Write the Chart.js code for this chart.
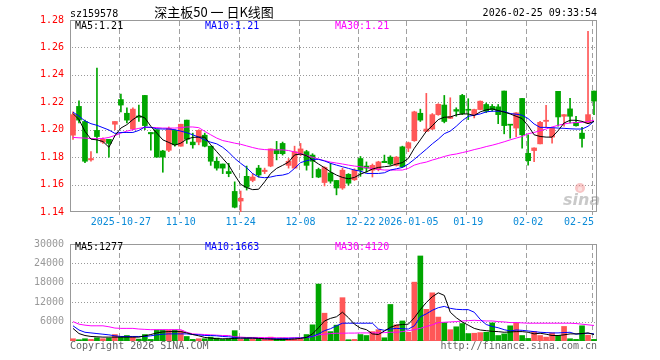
<!DOCTYPE html>
<html>
<head>
<meta charset="utf-8">
<script src="https://cdn.jsdelivr.net/npm/chart.js@4.4.1/dist/chart.umd.min.js"></script>
<style>
body{margin:0;background:#fff;}
#caja{position:relative;width:660px;height:360px;}
#fondo{position:absolute;left:0;top:0;}
#k{position:absolute;left:0;top:0;}
#v{position:absolute;left:0;top:232px;}
</style>
</head>
<body>
<div id="caja">
<canvas id="fondo" width="660" height="360"></canvas>
<canvas id="k" width="660" height="236"></canvas>
<canvas id="v" width="660" height="128"></canvas>
</div>
<script>
// dias de mercado
var fechas = [
 '2025-10-15','2025-10-16','2025-10-17','2025-10-20','2025-10-21','2025-10-22','2025-10-23','2025-10-24','2025-10-27','2025-10-28',
 '2025-10-29','2025-10-30','2025-10-31','2025-11-03','2025-11-04','2025-11-05','2025-11-06','2025-11-07','2025-11-10','2025-11-11',
 '2025-11-12','2025-11-13','2025-11-14','2025-11-17','2025-11-18','2025-11-19','2025-11-20','2025-11-21','2025-11-24','2025-11-25',
 '2025-11-26','2025-11-27','2025-11-28','2025-12-01','2025-12-02','2025-12-03','2025-12-04','2025-12-05','2025-12-08','2025-12-09',
 '2025-12-10','2025-12-11','2025-12-12','2025-12-15','2025-12-16','2025-12-17','2025-12-18','2025-12-19','2025-12-22','2025-12-23',
 '2025-12-24','2025-12-25','2025-12-26','2025-12-29','2025-12-30','2025-12-31','2026-01-05','2026-01-06','2026-01-07','2026-01-08',
 '2026-01-09','2026-01-12','2026-01-13','2026-01-14','2026-01-15','2026-01-16','2026-01-19','2026-01-20','2026-01-21','2026-01-22',
 '2026-01-23','2026-01-26','2026-01-27','2026-01-28','2026-01-29','2026-01-30','2026-02-02','2026-02-03','2026-02-04','2026-02-05',
 '2026-02-06','2026-02-09','2026-02-10','2026-02-11','2026-02-12','2026-02-13','2026-02-24','2026-02-25'
];
var apertura = [
 1.196,1.217,1.206,1.178,1.1995,1.191,1.193,1.204,1.222,1.212,
 1.2005,1.210,1.225,1.198,1.200,1.1845,1.185,1.1995,1.188,1.207,
 1.191,1.191,1.196,1.188,1.177,1.175,1.1695,1.155,1.148,1.166,
 1.163,1.172,1.1695,1.1735,1.1855,1.190,1.174,1.172,1.182,1.184,
 1.1815,1.171,1.1615,1.1685,1.163,1.1575,1.1675,1.1635,1.179,1.1735,
 1.1705,1.171,1.177,1.180,1.174,1.1875,1.1865,1.192,1.212,1.1988,
 1.2005,1.211,1.218,1.2083,1.2147,1.225,1.2147,1.211,1.2147,1.2184,
 1.217,1.2167,1.2282,1.2035,1.2012,1.2228,1.1828,1.1848,1.1897,1.2061,
 1.1946,1.228,1.2098,1.2152,1.2054,1.1975,1.2049,1.2282
];
var maximo = [
 1.213,1.221,1.207,1.184,1.245,1.194,1.193,1.206,1.226,1.216,
 1.216,1.218,1.225,1.198,1.200,1.185,1.202,1.200,1.204,1.207,
 1.1975,1.200,1.1975,1.188,1.180,1.175,1.1755,1.162,1.1553,1.1735,
 1.168,1.174,1.172,1.186,1.1915,1.191,1.179,1.188,1.190,1.185,
 1.1825,1.172,1.173,1.1755,1.163,1.172,1.168,1.1715,1.1805,1.1765,
 1.175,1.177,1.1815,1.181,1.1805,1.188,1.191,1.2135,1.215,1.2265,
 1.2118,1.219,1.225,1.2233,1.216,1.2258,1.2226,1.215,1.221,1.2195,
 1.2184,1.2184,1.2282,1.2035,1.2125,1.2228,1.1963,1.1868,1.2061,1.2177,
 1.2014,1.228,1.211,1.2228,1.2098,1.2017,1.2717,1.2282
];
var minimo = [
 1.193,1.205,1.176,1.177,1.183,1.190,1.180,1.200,1.213,1.205,
 1.200,1.206,1.200,1.185,1.180,1.169,1.184,1.188,1.188,1.190,
 1.1865,1.189,1.1875,1.174,1.1705,1.168,1.1657,1.143,1.140,1.156,
 1.162,1.1655,1.168,1.173,1.178,1.1815,1.172,1.172,1.181,1.1705,
 1.165,1.165,1.159,1.161,1.1525,1.1565,1.1595,1.163,1.166,1.169,
 1.1655,1.170,1.176,1.174,1.1735,1.1725,1.184,1.1915,1.206,1.1988,
 1.200,1.2105,1.205,1.2081,1.2098,1.211,1.2074,1.2086,1.2145,1.2125,
 1.2135,1.2044,1.197,1.1938,1.195,1.1865,1.1742,1.1767,1.1897,1.202,
 1.1902,1.2025,1.2025,1.2049,1.2025,1.1872,1.2044,1.211
];
var cierre = [
 1.211,1.207,1.177,1.179,1.195,1.193,1.190,1.206,1.218,1.207,
 1.215,1.209,1.203,1.197,1.180,1.180,1.201,1.189,1.204,1.193,
 1.189,1.1995,1.188,1.177,1.172,1.172,1.168,1.1435,1.150,1.158,
 1.1655,1.167,1.1705,1.186,1.1825,1.1825,1.177,1.184,1.186,1.174,
 1.177,1.1655,1.1725,1.1625,1.1575,1.1705,1.161,1.1705,1.1705,1.172,
 1.174,1.1765,1.176,1.175,1.180,1.173,1.1905,1.213,1.207,1.2005,
 1.211,1.2185,1.206,1.2096,1.2135,1.2118,1.2142,1.2147,1.2208,1.2135,
 1.2147,1.211,1.203,1.2033,1.2123,1.1963,1.1774,1.1867,1.2054,1.2069,
 1.2012,1.2093,1.211,1.2098,1.2029,1.1936,1.211,1.2209
];
var ma5 = [
 1.2118,1.2074,1.1988,1.1931,1.1926,1.1914,1.1872,1.1956,1.2012,1.2037,
 1.2074,1.2103,1.2086,1.2025,1.1975,1.1926,1.1907,1.1887,1.1902,1.1931,
 1.1944,1.1946,1.1946,1.189,1.184,1.1791,1.1742,1.1669,1.1602,1.1578,
 1.1563,1.1566,1.162,1.1681,1.1718,1.174,1.1764,1.1816,1.1823,1.1811,
 1.1779,1.175,1.1723,1.1693,1.1669,1.1652,1.1642,1.1652,1.1676,1.1693,
 1.1713,1.1725,1.173,1.1735,1.175,1.176,1.1791,1.1865,1.1926,1.1988,
 1.2029,1.2074,1.2091,1.2093,1.2108,1.2115,1.2115,1.2103,1.213,1.2145,
 1.2152,1.214,1.2128,1.2115,1.2098,1.2081,1.2029,1.1963,1.1951,1.1946,
 1.1946,1.1993,1.2049,1.2069,1.2069,1.2061,1.2044,1.2061
];
var ma10 = [
 1.2128,1.2098,1.2064,1.2044,1.2032,1.2015,1.1998,1.1973,1.198,1.198,
 1.198,1.1995,1.202,1.2017,1.2007,1.2005,1.2005,1.20,1.199,1.1978,
 1.1963,1.1946,1.1926,1.1909,1.1897,1.1872,1.1836,1.1791,1.1755,1.1723,
 1.168,1.1655,1.165,1.1655,1.1665,1.1669,1.1681,1.1718,1.176,1.1774,
 1.1784,1.1784,1.1772,1.1755,1.1742,1.173,1.1718,1.1706,1.1698,1.1681,
 1.1681,1.1681,1.1686,1.1706,1.1715,1.1725,1.175,1.1784,1.1821,1.1858,
 1.1897,1.1931,1.1971,1.199,1.2025,1.2066,1.2098,1.2106,1.2115,1.213,
 1.2135,1.2135,1.2133,1.2118,1.2113,1.2106,1.2081,1.2042,1.2017,1.2017,
 1.2015,1.2012,1.201,1.2007,1.2005,1.2005,1.2025,1.2061
];
var ma30 = [
 1.1944,1.1941,1.1939,1.1936,1.1934,1.1936,1.1944,1.1958,1.1975,1.199,
 1.20,1.201,1.2017,1.2017,1.2015,1.2012,1.2012,1.2012,1.2015,1.202,
 1.202,1.2015,1.1988,1.1963,1.1939,1.1921,1.1912,1.1902,1.1894,1.1882,
 1.187,1.186,1.1855,1.1853,1.1853,1.1853,1.1848,1.1838,1.1826,1.1811,
 1.1799,1.1786,1.1774,1.1764,1.1757,1.175,1.1742,1.1735,1.173,1.1723,
 1.1718,1.1711,1.1706,1.1706,1.1706,1.1706,1.1718,1.1742,1.1755,1.1764,
 1.1779,1.1791,1.1805,1.1816,1.1823,1.1833,1.1843,1.1855,1.1865,1.1877,
 1.1887,1.1899,1.1912,1.1926,1.1939,1.1951,1.1971,1.198,1.1993,1.2005,
 1.202,1.2032,1.2042,1.2049,1.2052,1.2054,1.2059,1.2069
];
var volumen = [
 700,400,700,500,1000,700,900,2000,1200,1700,
 1200,600,2000,500,3400,3400,3400,3400,3200,1400,
 500,700,700,1200,900,500,700,3200,500,900,
 700,700,500,1200,700,900,500,700,700,2000,
 5000,17600,8600,2900,4900,13400,400,500,2000,1700,
 2900,3500,1000,11300,5000,6200,2700,18200,26300,9800,
 14900,7400,5700,3500,4400,5400,2300,2400,2600,2700,
 5600,1700,2200,4700,5700,1700,800,2900,1700,1200,
 2500,1700,4500,700,500,4700,1800,500
];
var volMa5 = [
 3900,2300,1700,1400,1300,1200,1200,1200,1200,1200,
 1200,1200,1600,2000,2500,2800,2900,2900,2900,2500,
 2000,1600,1100,900,700,700,700,800,900,900,
 900,800,700,600,500,500,500,600,800,1100,
 2200,4100,6200,7000,7500,8900,7200,5200,4000,3500,
 2200,2000,3100,4200,4900,5100,5200,7200,9700,11900,
 13700,14900,14100,8900,7200,5900,4900,3900,3400,3200,
 3000,2900,2700,2800,2900,2900,2700,2200,2400,2100,
 1700,1700,1900,2200,2200,2300,2500,2000
];
var volMa10 = [
 4700,3400,2700,2500,2300,2100,1900,1600,1400,1400,
 1400,1400,1400,1600,1900,2100,2200,2200,2200,2200,
 2000,1900,1700,1700,1600,1400,1300,1100,900,900,
 900,800,700,700,700,700,800,900,900,1100,
 1400,2200,3200,3800,4700,5500,5500,5500,5500,5500,
 5500,3700,3300,3700,3900,3800,3700,4700,7500,8400,
 9500,10300,10700,10100,9800,9700,9700,8900,6700,5100,
 4500,4100,3500,3100,3400,3300,3100,2900,2700,2600,
 2500,2500,2600,2700,2100,2300,2400,2200
];
var volMa30 = [
 6000,5200,4900,4700,4700,4700,4400,4000,3900,3900,
 3900,3700,3600,3500,3500,3500,3500,3500,3500,2700,
 2200,2100,2000,1900,1800,1700,1700,1300,1200,1100,
 1100,1100,1050,1050,1000,1000,1000,1000,1000,1100,
 1400,1900,2100,2300,2400,2400,2450,2450,2500,2500,
 2500,2500,2600,2700,2700,2900,3200,3500,3900,4500,
 5000,5700,5800,5900,6000,6200,6300,6400,6300,6200,
 6200,6000,5900,5700,5700,5600,5500,5500,5500,5500,
 5500,5500,5500,5500,5400,5200,5000,4800
];
var volLeyenda = [1277, 1663, 4120];
var fechasEje = ['2025-10-27','2025-11-10','2025-11-24','2025-12-08','2025-12-22','2026-01-05','2026-01-19','2026-02-02','2026-02-25'];
var textosEje = ['2025-10-27','11-10','11-24','12-08','12-22','2026-01-05','01-19','02-02','02-25'];

var ROJO = '#ff5757';
var VERDE = '#00a600';
var MONO = 'DejaVu Sans Mono';

var posEje = fechasEje.map(function(f){ return fechas.indexOf(f); });
var colores = cierre.map(function(c, i){ return c >= apertura[i] ? ROJO : VERDE; });

function lineaMA(datos, color){
    return {type: 'line', data: datos, borderColor: color, borderWidth: 1,
            pointRadius: 0, tension: 0, fill: false, order: 0};
}

function ejeX(conTexto){
    return {
        offset: true,
        grid: {display: false, drawTicks: true, tickLength: 3},
        border: {display: false},
        ticks: {
            display: conTexto,
            autoSkip: false, maxRotation: 0, padding: 1, color: '#0b8bd8',
            font: {family: MONO, size: 10},
            callback: function(v, i){
                var k = posEje.indexOf(i);
                if (k < 0) return '';
                // la ultima fecha va pegada a la izquierda de su linea
                return k == textosEje.length - 1 ? textosEje[k] + '     ' : textosEje[k];
            }
        },
        afterFit: function(s){ s.height = conTexto ? 24 : 19; }
    };
}

function leyenda(c, a, y, textos){
    var colorTxt = ['#000', '#0000ff', '#ff00ff'];
    c.font = '10px "' + MONO + '"';
    c.textAlign = 'left';
    c.textBaseline = 'middle';
    for (var i = 0; i < 3; i++) {
        c.fillStyle = colorTxt[i];
        c.fillText(textos[i], a.left + 5 + 130 * i, y);
    }
}

var decoPrecio = {
    id: 'decoPrecio',
    afterDraw: function(chart){
        var c = chart.ctx, a = chart.chartArea;
        c.save();
        c.textBaseline = 'alphabetic';
        c.font = '10px "' + MONO + '"';
        c.fillStyle = '#000';
        c.textAlign = 'left';
        c.fillText('sz159578', a.left, 17);
        c.textAlign = 'right';
        c.fillText('2026-02-25 09:33:54', a.right, 16);
        c.font = '13px "Noto Sans CJK SC"';
        c.textAlign = 'center';
        c.fillText('深主板50 一 日K线图', 214, 17);
        leyenda(c, a, 26, ['MA5:' + ma5[ma5.length - 1].toFixed(2),
                           'MA10:' + ma10[ma10.length - 1].toFixed(2),
                           'MA30:' + ma30[ma30.length - 1].toFixed(2)]);
        // marca de agua sina
        c.globalAlpha = 0.45;
        c.fillStyle = '#f08080';
        c.beginPath(); c.arc(580, 188, 5, 0, Math.PI * 2); c.fill();
        c.fillStyle = '#fff';
        c.beginPath(); c.arc(580, 189, 2.2, 0, Math.PI * 2); c.fill();
        c.fillStyle = '#888';
        c.font = 'italic bold 16px "DejaVu Sans"';
        c.textAlign = 'left';
        c.textBaseline = 'alphabetic';
        c.fillText('sina', 563, 205);
        c.restore();
    }
};

var decoVol = {
    id: 'decoVol',
    afterDraw: function(chart){
        var c = chart.ctx, a = chart.chartArea;
        c.save();
        leyenda(c, a, 15, ['MA5:' + volLeyenda[0], 'MA10:' + volLeyenda[1], 'MA30:' + volLeyenda[2]]);
        c.fillStyle = '#666';
        c.fillText('Copyright 2026 SINA.COM', a.left, 114);
        c.textAlign = 'right';
        c.fillText('http://finance.sina.com.cn', a.right, 114);
        c.restore();
    }
};

var velas = new Chart(document.getElementById('k'), {
    type: 'bar',
    data: {
        labels: fechas,
        datasets: [
            lineaMA(ma5, '#000'),
            lineaMA(ma10, '#0000ff'),
            lineaMA(ma30, '#ff00ff'),
            {data: fechas.map(function(f, i){ return [minimo[i], maximo[i]]; }),
             backgroundColor: colores, barThickness: 1, grouped: false, order: 2},
            {data: fechas.map(function(f, i){ return [apertura[i], cierre[i]]; }),
             backgroundColor: colores, barThickness: 5, minBarLength: 1, grouped: false, order: 1}
        ]
    },
    options: {
        responsive: false,
        animation: false,
        events: [],
        layout: {padding: {top: 20, right: 63, left: 0, bottom: 0}},
        plugins: {legend: {display: false}, tooltip: {enabled: false}},
        scales: {
            x: ejeX(true),
            y: {
                min: 1.14, max: 1.28,
                ticks: {stepSize: 0.02, color: '#ff0000', padding: 6, font: {family: MONO, size: 10},
                        callback: function(v){ return v.toFixed(2); }},
                grid: {display: false, drawTicks: false},
                border: {display: false},
                afterFit: function(s){ s.width = 70; }
            }
        }
    },
    plugins: [decoPrecio]
});

var barrasVol = new Chart(document.getElementById('v'), {
    type: 'bar',
    data: {
        labels: fechas,
        datasets: [
            lineaMA(volMa5, '#000'),
            lineaMA(volMa10, '#0000ff'),
            lineaMA(volMa30, '#ff00ff'),
            {data: volumen, backgroundColor: colores, barThickness: 5, grouped: false, order: 1}
        ]
    },
    options: {
        responsive: false,
        animation: false,
        events: [],
        layout: {padding: {top: 8, right: 63, left: 0, bottom: 0}},
        plugins: {legend: {display: false}, tooltip: {enabled: false}},
        scales: {
            x: ejeX(false),
            y: {
                min: 0, max: 30000,
                ticks: {stepSize: 6000, color: '#999', padding: 6, font: {family: MONO, size: 10},
                        callback: function(v){ return v === 0 ? '' : v; }},
                grid: {display: false, drawTicks: false},
                border: {display: false},
                afterFit: function(s){ s.width = 70; }
            }
        }
    },
    plugins: [decoVol]
});

// rejilla y marco en un lienzo de fondo, con las escalas de cada grafico
function dibujaFondo(){
    var c = document.getElementById('fondo').getContext('2d');
    [[velas, 0, true], [barrasVol, 232, false]].forEach(function(p){
        var chart = p[0], dy = p[1], marcas = p[2];
        var a = chart.chartArea, sx = chart.scales.x, sy = chart.scales.y;
        var izq = Math.round(a.left), der = Math.round(a.right);
        var arr = Math.round(a.top) + dy, abj = Math.round(a.bottom) + dy;
        c.fillStyle = '#999';
        sy.ticks.forEach(function(t){
            var y = Math.round(sy.getPixelForValue(t.value)) + dy;
            if (y <= arr + 1 || y >= abj - 1) return;
            for (var x = izq + 2; x < der - 1; x += 3) c.fillRect(x, y, 1, 1);
        });
        c.fillStyle = '#a0a0a0';
        posEje.forEach(function(i){
            var x = Math.round(sx.getPixelForValue(i)) - 2;
            for (var y = arr + 1; y < abj; y += 8) c.fillRect(x, y, 1, Math.min(5, abj - y));
            if (marcas) c.fillRect(x, abj, 1, 3);
        });
        c.fillStyle = '#999';
        c.fillRect(izq, arr, der - izq, 1);
        c.fillRect(izq, abj - 1, der - izq, 1);
        c.fillRect(izq, arr, 1, abj - arr);
        c.fillRect(der - 1, arr, 1, abj - arr);
    });
}
dibujaFondo();
</script>
</body>
</html>
